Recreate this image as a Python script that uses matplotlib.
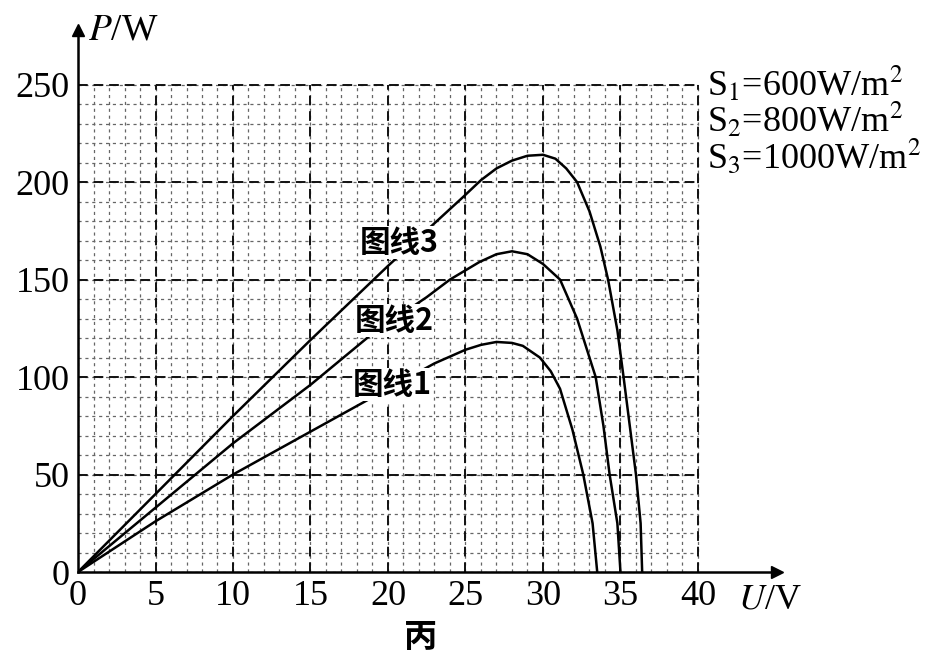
import numpy as np
import matplotlib
matplotlib.use("Agg")
import matplotlib.pyplot as plt

plt.rcParams['font.family'] = ['Liberation Serif', 'Noto Sans CJK SC', 'DejaVu Sans']
plt.rcParams['mathtext.fontset'] = 'stix'

# curve data (U in V, P in W)
u1 = [0, 5, 10, 15, 20, 23, 25, 26, 27, 28, 28.7, 29.8, 30.5, 31.1, 31.9, 32.6, 33.2, 33.5]
p1 = [0, 26, 50, 72, 94, 107, 114, 116.5, 118, 117.5, 116, 110, 103, 94, 73, 50, 25, 0]

u2 = [0, 5, 10, 15, 18.8, 22.5, 24, 25.9, 27, 28, 29, 30, 31.1, 32.2, 32.8, 33.4, 33.9, 34.3, 34.8, 35.0]
p2 = [0, 33, 66, 96, 121, 141, 150, 159, 163, 164.5, 163, 158, 150, 130, 115, 100, 75, 50, 25, 0]

u3 = [0, 5, 10, 15, 20, 24.8, 26, 27, 28, 29, 30, 30.8, 31.5, 32.2, 33, 33.7, 34.2, 34.8, 35.2, 35.6, 36.0, 36.3, 36.4]
p3 = [0, 40, 80, 119, 157, 192, 201, 207, 211, 213.5, 214, 212, 207, 200, 185, 167, 150, 124, 100, 75, 50, 25, 0]

curve_labels = ['图线1', '图线2', '图线3']
label_pos = [(20.3, 96), (20.4, 129), (20.7, 169)]
legend_lines = [r'S$_1$=600W/m$^2$', r'S$_2$=800W/m$^2$', r'S$_3$=1000W/m$^2$']

xticks = list(range(0, 41, 5))
yticks = list(range(0, 251, 50))

fig = plt.figure(figsize=(9.32, 6.55), dpi=100)
ax = fig.add_axes([0.0837, 0.1267, 0.750, 0.8275])
ax.set_xlim(0, 45.1)
ax.set_ylim(0, 278)

# grid (only inside 0..40 x 0..250)
minor_x = np.arange(0, 41, 1)
minor_y = np.arange(0, 251, 10)
ax.vlines(minor_x, 0, 250, colors='#666666', linewidth=0.9, linestyles=(0, (2.5, 3)), zorder=1)
ax.hlines(minor_y, 0, 40, colors='#666666', linewidth=0.9, linestyles=(0, (2.5, 3)), zorder=1)
ax.vlines(xticks[1:], 0, 250, colors='#111111', linewidth=1.4, linestyles=(0, (5, 3)), zorder=2)
ax.hlines(yticks[1:], 0, 40, colors='#111111', linewidth=1.4, linestyles=(0, (5, 3)), zorder=2)

for u, p in [(u1, p1), (u2, p2), (u3, p3)]:
    ax.plot(u, p, color='black', linewidth=1.8, zorder=3, solid_joinstyle='round')

for txt, (x, y) in zip(curve_labels, label_pos):
    ax.text(x, y, txt, fontsize=22, ha='center', va='center', zorder=4,
            family=['Noto Sans CJK SC', 'Liberation Serif'], weight='bold',
            bbox=dict(facecolor='white', edgecolor='none', pad=0.5))

for i, t in enumerate(legend_lines):
    ax.text(40.6, 250 - i * 18.5, t, fontsize=26, ha='left', va='center')

# axes with arrows
for s in ['top', 'right']:
    ax.spines[s].set_visible(False)
for s in ['left', 'bottom']:
    ax.spines[s].set_linewidth(1.8)
ax.plot(1, 0, '>k', markersize=9, transform=ax.transAxes, clip_on=False)
ax.plot(0, 1, '^k', markersize=9, transform=ax.transAxes, clip_on=False)

ax.set_xticks(xticks)
ax.set_yticks(yticks)
ax.tick_params(length=0, labelsize=26, pad=6)

fig.text(0.094, 0.954, r'$P$/W', fontsize=27, ha='left', va='center')
fig.text(0.792, 0.084, r'$U$/V', fontsize=26, ha='left', va='center')
fig.text(0.451, 0.027, '丙', fontsize=24, ha='center', va='center',
         family=['Noto Sans CJK SC'], weight='bold')

fig.savefig('out.png', dpi=100)
